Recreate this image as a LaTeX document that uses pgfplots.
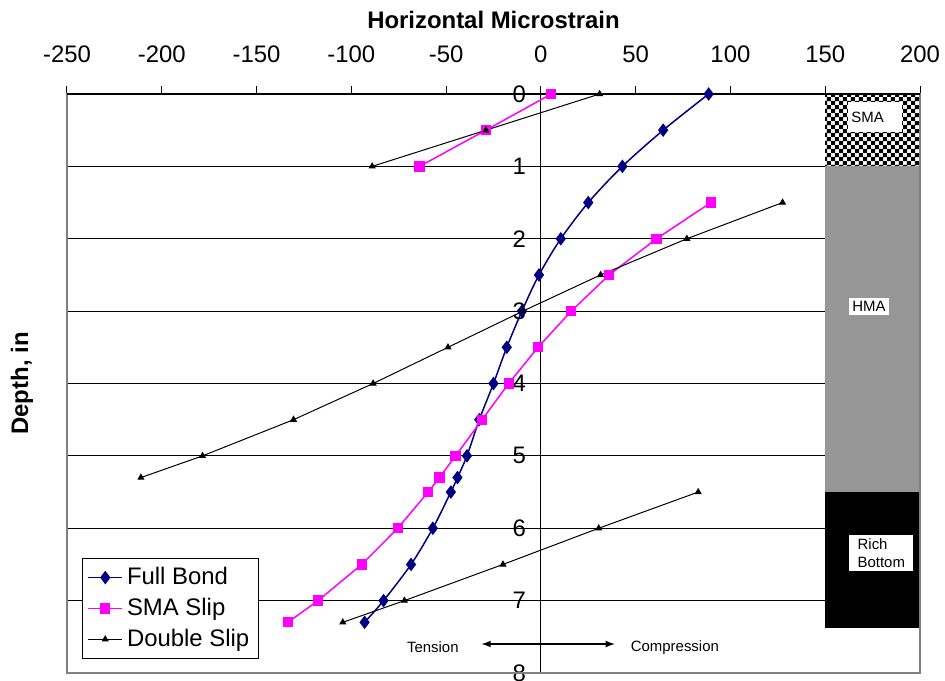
\documentclass[border=0pt]{standalone}
\usepackage{fontspec}
\setmainfont{Liberation Sans}
\usepackage{pgfplots}
\pgfplotsset{compat=1.18}
\usetikzlibrary{patterns,calc}
\definecolor{fbnavy}{HTML}{000080}
\definecolor{smamag}{HTML}{FF00FF}
\definecolor{hmagray}{HTML}{969696}
\definecolor{framegray}{HTML}{808080}
% finer checkerboard than the library one
\pgfdeclarepatternformonly{finecheck}{\pgfpointorigin}{\pgfqpoint{4.2bp}{4.2bp}}{\pgfqpoint{4.2bp}{4.2bp}}{
  \pgfpathrectangle{\pgfpointorigin}{\pgfqpoint{2.15bp}{2.15bp}}
  \pgfpathrectangle{\pgfqpoint{2.1bp}{2.1bp}}{\pgfqpoint{2.15bp}{2.15bp}}
  \pgfusepath{fill}}

\begin{document}
\begin{tikzpicture}
\begin{axis}[
    scale only axis,
    width=426.5bp, height=289.5bp,
    xmin=-250, xmax=200, ymin=0, ymax=8,
    y dir=reverse,
    clip=false,
    axis x line=top,
    axis y line=middle,
    hide obscured y ticks=false,
    x axis line style={-, black, line width=0.6bp},
    y axis line style={-, black, line width=0.6bp},
    xtick={-250,-200,...,200},
    ytick={0,1,...,8},
    tick align=outside,
    major tick length=4bp,
    tick style={black, line width=0.5bp},
    ymajorgrids,
    grid style={black, line width=0.5bp},
    /pgf/number format/assume math mode=true,
    ticklabel style={font=\fontsize{12}{14}\selectfont},
    xticklabel style={yshift=8bp},
    every axis y label/.style={at={(axis description cs:0,0.5)}, xshift=-22.5bp,
        rotate=90, anchor=center, font=\bfseries\fontsize{12}{14}\selectfont},
    ylabel={Depth, in},
    legend cell align=left,
    legend style={at={(axis description cs:0.0176,0.0242)}, anchor=south west,
        draw=black, line width=0.5bp, font=\fontsize{12}{14}\selectfont,
        row sep=1.3bp, inner sep=2.5bp},
    unbounded coords=jump,
]
% layer column
\fill[pattern=finecheck, pattern color=black] (axis cs:150,0) rectangle (axis cs:200,1);
\fill[hmagray] (axis cs:150,1) rectangle (axis cs:200,5.5);
\fill[black] (axis cs:150,5.5) rectangle (axis cs:200,7.375);
\node[fill=white, anchor=north west, inner sep=1.5bp, text width=24bp, minimum height=15bp,
      align=left, font=\fontsize{7.5}{9}\selectfont] at (axis cs:162,0.11) {SMA};
\node[fill=white, anchor=north west, inner sep=1.5bp,
      font=\fontsize{7.5}{9}\selectfont] at (axis cs:162.5,2.82) {HMA};
\node[fill=white, anchor=north west, inner sep=1.5bp, minimum width=32bp, minimum height=18bp,
      align=left, font=\fontsize{7.5}{9}\selectfont] at (axis cs:162.5,6.09) {Rich\\Bottom};

\addplot[fbnavy, line width=0.75bp, smooth, mark=diamond*, mark size=2.8bp,
    mark options={solid, fill=fbnavy}] coordinates {
    (88.5,0) (64.5,0.5) (43,1) (25,1.5) (10.5,2) (-1,2.5) (-10,3) (-18,3.5)
    (-25,4) (-32.5,4.5) (-39,5) (-44,5.3) (-47.5,5.5) (-57,6) (-68.5,6.5)
    (-83,7) (-93,7.3)};
\addlegendentry{Full Bond}

\addplot[smamag, line width=0.75bp, mark=square*, mark size=2.2bp,
    mark options={solid, fill=smamag}] coordinates {
    (5.5,0) (-29,0.5) (-64,1) (nan,nan)
    (89.7,1.5) (61,2) (36,2.5) (16,3) (-1.5,3.5) (-17,4) (-31,4.5) (-45,5)
    (-53.5,5.3) (-59.5,5.5) (-75.5,6) (-94.5,6.5) (-117.5,7) (-133.5,7.3)};
\addlegendentry{SMA Slip}

\addplot[black, line width=0.5bp, mark=triangle*, mark size=1.6bp,
    mark options={solid, fill=black}] coordinates {
    (31,0) (-29,0.5) (-89,1) (nan,nan)
    (127.5,1.5) (77,2) (31.5,2.5) (-9.5,3) (-49,3.5) (-88.5,4) (-130.5,4.5)
    (-178.5,5) (-211,5.3) (nan,nan)
    (83,5.5) (30.5,6) (-20,6.5) (-72,7) (-104.5,7.3)};
\addlegendentry{Double Slip}

% annotations
\draw[<->, >=latex, line width=0.6bp] (axis cs:-31.3,7.6) -- (axis cs:39,7.6);
\node[font=\fontsize{7.5}{9}\selectfont] at (axis cs:-57,7.65) {Tension};
\node[font=\fontsize{7.5}{9}\selectfont] at (axis cs:70.7,7.65) {Compression};
\node[font=\bfseries\fontsize{12}{14}\selectfont] at (axis cs:-25,0) [yshift=37bp] {Horizontal Microstrain};

% frame
\draw[framegray, line width=0.75bp] (axis cs:-250,0) rectangle (axis cs:200,8);
\draw[black, line width=0.6bp] (axis cs:-250,0) -- (axis cs:200,0);
\coordinate (bl) at (axis cs:-250,8);
\coordinate (tr) at (axis cs:200,0);
\end{axis}
\pgfresetboundingbox
\path[use as bounding box] ($(bl)+(-33.5bp,-4bp)$) rectangle ($(tr)+(12.5bp,47bp)$);
\end{tikzpicture}
\end{document}
